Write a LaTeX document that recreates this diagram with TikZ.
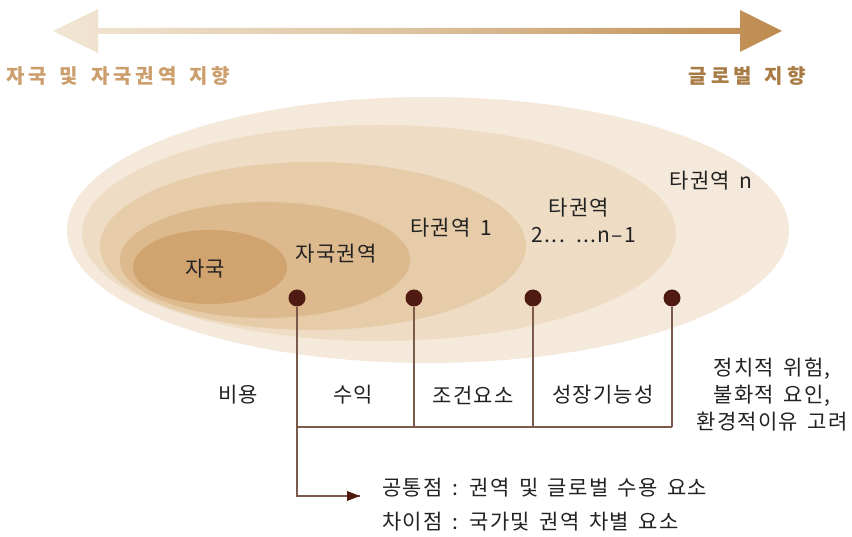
\documentclass[tikz,border=0pt]{standalone}
\usepackage{fontspec}
\setmainfont{Noto Sans CJK KR}[LetterSpace=6,WordSpace=1.6]
\newfontfamily\titlefont[LetterSpace=20,WordSpace=1.5]{Noto Sans CJK KR}
\usetikzlibrary{arrows.meta}
\definecolor{ringA}{HTML}{F4E9DA}
\definecolor{ringB}{HTML}{EEDDC4}
\definecolor{ringC}{HTML}{E6CCA8}
\definecolor{ringD}{HTML}{DDB98E}
\definecolor{ringE}{HTML}{D0A36F}
\definecolor{dotc}{HTML}{4E1A12}
\definecolor{linec}{HTML}{7B5A4C}
\definecolor{lefttxt}{HTML}{CB9E6C}
\definecolor{righttxt}{HTML}{A87A44}
\definecolor{arrL}{HTML}{F2E6D4}
\definecolor{arrM}{HTML}{DCC29E}
\definecolor{arrR}{HTML}{BE8A4E}
\definecolor{txt}{HTML}{222222}
\tikzset{
  lbl/.style={inner sep=0pt, text=txt, font=\fontsize{21}{25}\selectfont},
  ttl/.style={inner sep=0pt, font=\titlefont\bfseries\fontsize{20}{24}\selectfont},
  dotnode/.style={circle, fill=dotc, minimum size=17pt, inner sep=0pt},
  conn/.style={draw=linec, line width=1.3pt},
}
\begin{document}
\begin{tikzpicture}[x=1pt,y=-1pt]
\useasboundingbox (0,0) rectangle (852,537);
% rings
\fill[ringA] (428,230) ellipse [x radius=361pt, y radius=133pt];
\fill[ringB] (379,233) ellipse [x radius=297pt, y radius=108pt];
\fill[ringC] (313,246) ellipse [x radius=213pt, y radius=84pt];
\fill[ringD] (265,260) ellipse [x radius=145pt, y radius=58pt];
\fill[ringE] (210,267) ellipse [x radius=77pt, y radius=37pt];
% top arrow
\shade[left color=arrL, right color=arrR, middle color=arrM]
  (53,31) -- (98,9) -- (98,28) -- (740,28) -- (740,10) -- (782,31)
  -- (740,52) -- (740,34) -- (98,34) -- (98,53) -- cycle;
\node[ttl, text=lefttxt, anchor=west] (tl) at (6,76) {자국 및 자국권역 지향};
\node[ttl, text=righttxt, anchor=east] (tr) at (806,76) {글로벌 지향};
% ring labels
\node[lbl] (l1) at (205,269) {자국};
\node[lbl] (l2) at (336,254) {자국권역};
\node[lbl] (l3) at (451,228) {타권역 1};
\node[lbl] (l4a) at (579,208) {타권역};
\node[lbl] (l4b) at (584,235) {2... ...n–1};
\node[lbl] (l5) at (711,181) {타권역 n};
% dots
\node[dotnode] (d1) at (297,298) {};
\node[dotnode] (d2) at (414,298) {};
\node[dotnode] (d3) at (533,298) {};
\node[dotnode] (d4) at (672,298) {};
\coordinate (h1) at (297,427);
\coordinate (h2) at (414,427);
\coordinate (h3) at (533,427);
\coordinate (h4) at (672,427);
\coordinate (bend) at (297,496);
\coordinate (tip) at (360,496);
\draw[conn] (d1) -- (bend) -- (tip);
\draw[conn] (d2) -- (h2);
\draw[conn] (d3) -- (h3);
\draw[conn] (d4) -- (h4);
\draw[conn] (h1) -- (h4);
\fill[dotc] (tip) -- ++(-13,-5) -- ++(0,10) -- cycle;
% bottom labels
\node[lbl] (c1) at (238,395) {비용};
\node[lbl] (c2) at (353,395) {수익};
\node[lbl] (c3) at (473,395) {조건요소};
\node[lbl] (c4) at (603,395) {성장기능성};
\node[lbl, align=center] (c5) at (772,395) {정치적 위험,\\[2pt]불화적 요인,\\[2pt]환경적이유 고려};
\node[lbl, anchor=west] (n1) at (382,488) {공통점 : 권역 및 글로벌 수용 요소};
\node[lbl, anchor=west] (n2) at (382,522) {차이점 : 국가및 권역 차별 요소};
\end{tikzpicture}
\end{document}
